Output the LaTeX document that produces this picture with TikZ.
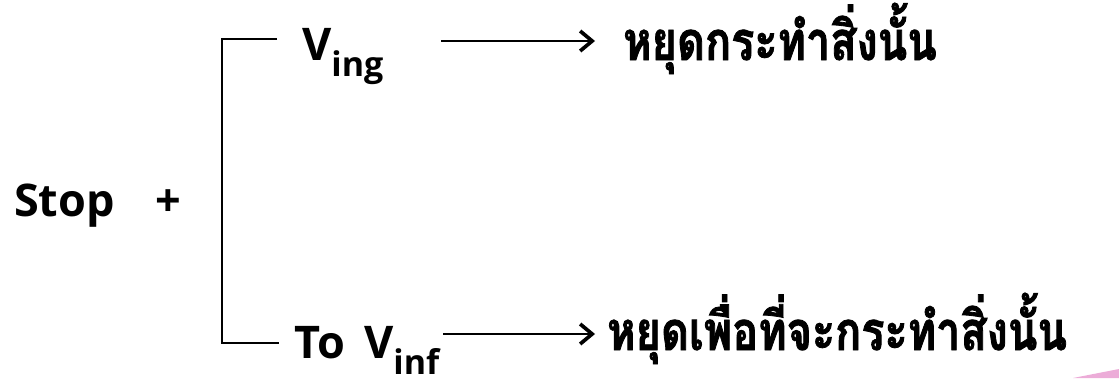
\documentclass[tikz,border=0pt]{standalone}
\usepackage{fontspec}
\setmainfont{Open Sans}
\newfontfamily\thaifont[Script=Thai,FakeStretch=0.8,FakeBold=1.5]{Loma}
\usetikzlibrary{arrows.meta,calc}
\definecolor{slidepink}{RGB}{236,172,216}
\tikzset{
  word/.style={inner sep=0pt, anchor=base west, font=\fontsize{45}{50}\selectfont\bfseries},
  thai/.style={inner sep=0pt, anchor=base west, font=\fontsize{54}{60}\selectfont\thaifont\bfseries},
  bracket/.style={line width=1.4pt},
  arr/.style={line width=1.6pt, -{Straight Barb[length=12pt,width=20pt,line width=0pt 2.3]}}
}
\newcommand{\sub}[1]{\raisebox{-16pt}{\fontsize{34}{38}\selectfont #1}}
\begin{document}
\begin{tikzpicture}[x=1pt,y=-1pt]
  \useasboundingbox (0,0) rectangle (1119,378);
  % left part
  \node[word] (stop) at (14,216) {Stop};
  \node[word] (plus) at (155,216) {+};
  % the two branches
  \node[word] (ving) at (302,60) {V\sub{ing}};
  \node[word] (tov) at (294,358) {To\, V\sub{inf}};
  \node[thai] (t1) at (623,60) {หยุดกระทำสิ่งนั้น};
  \node[thai] (t2) at (607,350) {หยุดเพื่อที่จะกระทำสิ่งนั้น};

  \coordinate (brtop) at (277,39);
  \coordinate (brbot) at (279,343);
  \draw[bracket] (brtop) -- (222,39) -- (222,343) -- (brbot);

  \coordinate (a1) at (441,41);
  \coordinate (a2) at (443,334);
  \draw[arr] (a1) -- (a1 -| t1.west) [shorten >=28pt];
  \draw[arr] (a2) -- (a2 -| t2.west) [shorten >=12pt];

  % corner of the slide
  \fill[slidepink] (1073,378) -- (1119,369) -- (1119,378) -- cycle;
\end{tikzpicture}
\end{document}
